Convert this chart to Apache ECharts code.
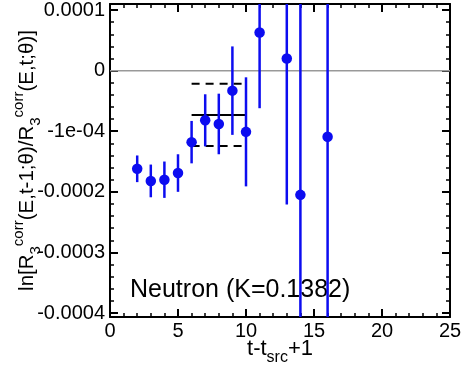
<!DOCTYPE html>
<html>
<head>
<meta charset="utf-8">
<script src="https://cdn.jsdelivr.net/npm/echarts@6/dist/echarts.min.js"></script>
<style>
  * { margin: 0; padding: 0; }
  html, body { background: #fff; }
</style>
</head>
<body>
<div id="chart" style="width:463px;height:369px;"></div>
<script>
  // time slices t - t_src + 1
  const tSlices = [2, 3, 4, 5, 6, 7, 8, 9, 10, 11, 13, 14, 16];
  // ratio values and errors
  const ratioVals = [-1.62e-4, -1.82e-4, -1.80e-4, -1.69e-4, -1.18e-4, -0.82e-4, -0.88e-4, -0.33e-4, -1.01e-4, 0.63e-4, 0.20e-4, -2.05e-4, -1.09e-4];
  const ratioErrs = [0.22e-4, 0.27e-4, 0.30e-4, 0.31e-4, 0.35e-4, 0.43e-4, 0.50e-4, 0.73e-4, 0.90e-4, 1.25e-4, 2.41e-4, 4.5e-4, 4.5e-4];
  // fit range and result
  const fitRange = [6, 10];
  const fitVal = -0.73e-4;
  const fitErr = 0.515e-4;
  // tick labels
  const yTicks = [1e-4, 0, -1e-4, -2e-4, -3e-4, -4e-4];
  const yTickLabels = ['0.0001', '0', '-1e-04', '-0.0002', '-0.0003', '-0.0004'];
  const yRange = [-4.066e-4, 1.1e-4];
  const xTicks = [0, 5, 10, 15, 20, 25];

  // minor y ticks every 2e-5 between the labelled ones
  const yMinor = [];
  for (let i = -20; i <= 5; i++) yMinor.push(i * 2e-5);

  const blue = '#0c0cf0';
  const font = 'Liberation Sans';

  const points = tSlices.map((t, i) => [t, ratioVals[i]]);
  const errData = tSlices.map((t, i) => [t, ratioVals[i] - ratioErrs[i], ratioVals[i] + ratioErrs[i]]);

  function yLabel(v) {
    const k = yTicks.findIndex(y => Math.abs(y - v) < 1e-9);
    return k >= 0 ? yTickLabels[k] : '';
  }

  const frame = { show: true, onZero: false, lineStyle: { color: '#000', width: 2 } };
  const noLine = { show: false, onZero: false };
  const majorTick = { show: true, inside: true, length: 8, lineStyle: { color: '#000', width: 2 } };
  const minorTickStyle = { show: true, inside: true, length: 4, lineStyle: { color: '#000', width: 1.5 } };

  function xAx(pos, isMinor, withLabel) {
    return {
      type: 'value', min: xTicks[0], max: xTicks[xTicks.length - 1], interval: isMinor ? 1 : 5, position: pos,
      axisLine: isMinor ? noLine : frame,
      axisTick: isMinor ? minorTickStyle : majorTick,
      axisLabel: withLabel ? { fontSize: 20, color: '#000', fontFamily: font, margin: 4 } : { show: false },
      splitLine: { show: false }
    };
  }
  function yAx(pos, isMinor, withLabel) {
    return {
      type: 'value', min: yRange[0], max: yRange[1], position: pos,
      axisLine: isMinor ? noLine : frame,
      axisTick: Object.assign({ customValues: isMinor ? yMinor : yTicks }, isMinor ? minorTickStyle : majorTick),
      axisLabel: withLabel
        ? { customValues: yTicks, fontSize: 20, color: '#000', fontFamily: font, margin: 5, formatter: yLabel }
        : { show: false },
      splitLine: { show: false }
    };
  }

  const xMain = xAx('bottom', false, true);
  xMain.name = '{n|t-t}{sub|src}{n|+1}';
  xMain.nameLocation = 'middle';
  xMain.nameGap = 21;
  xMain.nameMoveOverlap = false;
  xMain.nameTextStyle = {
    rich: {
      n: { fontSize: 22, fontFamily: font, color: '#000', lineHeight: 28, verticalAlign: 'top' },
      sub: { fontSize: 16, fontFamily: font, color: '#000', lineHeight: 28, verticalAlign: 'bottom' }
    }
  };

  const yMain = yAx('left', false, true);
  yMain.name = '{n|ln[R}{sub|3}{sup|corr}{n|(E,t-1;θ)/R}{sub|3}{sup|corr}{n|(E,t;θ)]}';
  yMain.nameLocation = 'middle';
  yMain.nameRotate = 90;
  yMain.nameGap = 67;
  yMain.nameMoveOverlap = false;
  yMain.nameTextStyle = {
    rich: {
      n: { fontSize: 20.5, fontFamily: font, color: '#000', lineHeight: 32, verticalAlign: 'middle' },
      sub: { fontSize: 15, fontFamily: font, color: '#000', lineHeight: 32, verticalAlign: 'bottom' },
      sup: { fontSize: 15, fontFamily: font, color: '#000', lineHeight: 32, verticalAlign: 'top' }
    }
  };

  const chart = echarts.init(document.getElementById('chart'));
  chart.setOption({
    animation: false,
    grid: { left: 110, right: 13, top: 4, bottom: 52, containLabel: false, outerBoundsMode: 'none' },
    xAxis: [xMain, xAx('top', false, false), xAx('bottom', true, false), xAx('top', true, false)],
    yAxis: [yMain, yAx('right', false, false), yAx('left', true, false), yAx('right', true, false)],
    graphic: [{
      type: 'text',
      left: 130,
      top: 278,
      style: { text: 'Neutron (K=0.1382)', fontSize: 25, fontFamily: font, fill: '#000' }
    }],
    series: [
      {
        type: 'line',
        data: [[0, 0], [25, 0]],
        symbol: 'none',
        silent: true,
        lineStyle: { color: '#999', width: 1.5 },
        z: 1
      },
      {
        type: 'custom',
        clip: true,
        data: errData,
        renderItem: function (params, api) {
          const p1 = api.coord([api.value(0), api.value(1)]);
          const p2 = api.coord([api.value(0), api.value(2)]);
          return {
            type: 'line',
            shape: { x1: p1[0], y1: p1[1], x2: p2[0], y2: p2[1] },
            style: { stroke: blue, lineWidth: 2.5 }
          };
        },
        z: 3
      },
      {
        type: 'line',
        data: fitRange.map(t => [t, fitVal]),
        symbol: 'none',
        lineStyle: { color: '#000', width: 2 },
        z: 2
      },
      {
        type: 'line',
        data: fitRange.map(t => [t, fitVal + fitErr]),
        symbol: 'none',
        lineStyle: { color: '#000', width: 2, type: [8, 6] },
        z: 2
      },
      {
        type: 'line',
        data: fitRange.map(t => [t, fitVal - fitErr]),
        symbol: 'none',
        lineStyle: { color: '#000', width: 2, type: [8, 6] },
        z: 2
      },
      {
        type: 'scatter',
        data: points,
        symbol: 'circle',
        symbolSize: 10.5,
        itemStyle: { color: blue, opacity: 1 },
        z: 4
      }
    ]
  });
</script>
</body>
</html>
